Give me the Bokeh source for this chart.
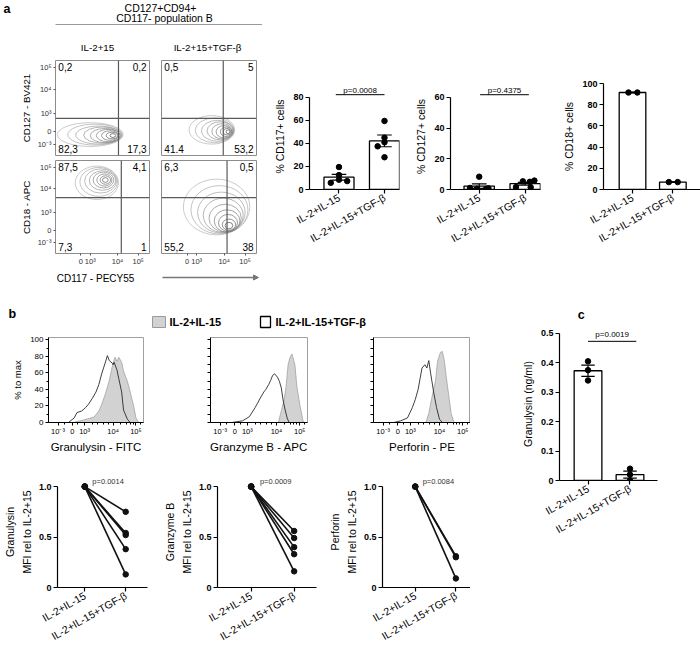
import math
from bokeh.plotting import figure
from bokeh.layouts import row, column
from bokeh.models import (Range1d, FixedTicker, Label, Span, Arrow, NormalHead, LinearAxis,
                          CustomJSTickFormatter)
from bokeh.embed import file_html
from bokeh.resources import INLINE

FONT = "Liberation Sans"

# ------------------------------------------------------------------ data
groups = ["IL-2+IL-15", "IL-2+IL-15+TGF-β"]

# panel a: flow plots (display units 0-100 on a biexponential axis)
flow_cols = ["IL-2+15", "IL-2+15+TGF-β"]
flow_y_labels = ["CD127 - BV421", "CD18 - APC"]
flow_x_label = "CD117 - PECY55"
flow_ytick_pos = [12, 25, 44, 70, 93]
flow_ytick_txt = ["10⁻³", "0", "10³", "10⁴", "10⁵"]
flow_xtick_pos = [27, 37, 66, 88]
flow_xtick_txt = ["0", "10³", "10⁴", "10⁵"]
# quadrant percentages: upper-left, upper-right, lower-left, lower-right
quad_cd127_il = ["0,2", "0,2", "82,3", "17,3"]
quad_cd127_tgf = ["0,5", "5", "41.4", "53,2"]
quad_cd18_il = ["87,5", "4,1", "7,3", "1"]
quad_cd18_tgf = ["6,3", "0,5", "55,2", "38"]
# gates (x, y)
gate_cd127_il = [67, 39]
gate_cd127_tgf = [65, 39]
gate_cd18_il = [70, 60]
gate_cd18_tgf = [69, 60]
# contour levels (outer -> inner)
tl_cx = [37, 42, 46, 50, 53, 56, 58, 60, 61]
tl_cy = [22, 22, 21.5, 21.5, 21, 21, 21, 21, 21]
tl_w = [70, 58, 49, 40, 32, 25, 18, 12, 6]
tl_h = [25, 22, 19, 17, 15, 13, 10, 7, 4]
tr_cx = [53, 56, 59, 62, 64, 66, 68, 69, 70]
tr_cy = [27, 26.5, 26, 26, 25.5, 25, 25, 25, 25]
tr_w = [48, 41, 34, 28, 22, 17, 12, 8, 4]
tr_h = [30, 26, 22, 19, 16, 13, 10, 7, 4]
bl_cx = [44, 46, 48, 50, 51, 52, 53, 53]
bl_cy = [76, 77, 78, 78.5, 79, 79, 79, 79]
bl_w = [46, 40, 34, 28, 22, 16, 11, 6]
bl_h = [36, 31, 26, 21, 17, 13, 9, 5]
br_cx = [58, 61, 63, 65, 67, 69, 70, 71, 71]
br_cy = [50, 47, 44, 41, 38, 35, 33, 31, 30]
br_w = [70, 60, 50, 42, 34, 27, 20, 14, 8]
br_h = [60, 52, 44, 37, 30, 24, 18, 12, 7]

# panel a: bar charts
cd117_il = [19.5, 12.5, 7.3, 5.8, 8.5]
cd117_tgf = [59.5, 45.0, 41.0, 37.5, 28.0]
cd117_mean = [10.7, 42.2]
cd117_sem = [2.5, 5.1]
cd127_il = [8.3, 1.0, 0.8, 0.5, 0.4]
cd127_tgf = [5.8, 5.3, 5.0, 1.6, 1.4]
cd127_mean = [2.2, 3.8]
cd127_sem = [1.5, 0.9]
cd18_il = [91.5, 91.5]
cd18_tgf = [7.0, 7.0]
cd18_mean = [91.5, 7.0]
cd18_sem = [0.3, 0.2]
p_cd117 = "p=0.0008"
p_cd127 = "p=0.4375"

# panel b: histograms (x in display units 0-100, y in % of max)
hist_tick_pos = [10, 25, 38, 68, 92]
hist_tick_txt = ["10⁻³", "0", "10³", "10⁴", "10⁵"]
gran_il_x = [26, 37, 48, 53, 56, 60, 64, 67, 70, 72, 74, 77, 79, 83, 86, 90, 92, 95]
gran_il_y = [0, 3, 6.6, 14, 22, 35, 51, 67, 79, 74, 79, 73, 62, 50, 37, 18, 5.5, 0]
gran_tgf_x = [21, 27, 30, 35, 39, 42, 46, 50, 53, 56, 60, 62, 64, 67, 68, 69, 72, 74, 77, 79, 83, 86]
gran_tgf_y = [0, 5.5, 12, 14, 18, 22, 29, 37, 46, 59, 73.5, 81, 75, 72, 70, 73, 64, 53, 37, 15, 4, 0]
gzmb_il_x = [70, 73, 76, 78, 80, 82, 84, 87, 89, 92, 95, 96]
gzmb_il_y = [0, 14, 27.6, 44, 70, 79, 83, 70, 44, 22, 4, 0]
gzmb_tgf_x = [22, 33, 40, 46, 52, 55, 57, 60, 62, 64, 66, 69, 71, 73, 75, 77, 79, 81]
gzmb_tgf_y = [0, 2, 7, 18, 31, 37, 40, 46, 51, 57, 59, 55, 50, 42, 26, 15, 5.5, 0]
perf_il_x = [54, 57, 60, 64, 66, 69, 71, 73, 75, 78, 80, 83]
perf_il_y = [0, 11, 29, 51, 74, 85, 86, 75, 55, 29, 11, 0]
perf_tgf_x = [21, 28, 35, 40, 43, 46, 48, 50, 53, 55, 57, 59, 62, 65, 68, 71]
perf_tgf_y = [0, 2, 5.5, 18, 27.6, 40, 53, 66, 70, 66, 75, 59, 37, 18, 4, 0]

# panel b: paired MFI (relative to IL-2+15)
gran_mfi_il = [1.0, 1.0, 1.0, 1.0, 1.0]
gran_mfi_tgf = [0.75, 0.54, 0.52, 0.38, 0.13]
gzmb_mfi_il = [1.0, 1.0, 1.0, 1.0, 1.0]
gzmb_mfi_tgf = [0.56, 0.49, 0.40, 0.33, 0.16]
perf_mfi_il = [1.0, 1.0, 1.0]
perf_mfi_tgf = [0.31, 0.30, 0.09]
p_gran, p_gzmb, p_perf = "p=0.0014", "p=0.0009", "p=0.0084"

# panel c: secreted granulysin
gnly_il = [0.405, 0.375, 0.34]
gnly_tgf = [0.04, 0.02, 0.0]
gnly_mean = [0.373, 0.02]
gnly_sem = [0.019, 0.012]
p_gnly = "p=0.0019"

# ------------------------------------------------------------------ helpers
SX = 1.0
SY = 1.0


def X(v):
    return int(round(v * SX))


def Y(v):
    return int(round(v * SY))


def fs(px):
    return f"{px * SX:.1f}px"


def mkfig(box, frame, xr, yr):
    x0, y0, x1, y1 = box
    fx0, fy0, fx1, fy1 = frame
    p = figure(width=X(x1) - X(x0), height=Y(y1) - Y(y0),
               x_range=Range1d(*xr), y_range=Range1d(*yr),
               output_backend="svg", toolbar_location=None,
               min_border_left=X(fx0) - X(x0), min_border_right=X(x1) - X(fx1),
               min_border_top=Y(fy0) - Y(y0), min_border_bottom=Y(y1) - Y(fy1))
    p.grid.visible = False
    p.outline_line_color = None
    return p


def blank(box):
    x0, y0, x1, y1 = box
    p = mkfig(box, box, (x0, x1), (y1, y0))
    p.axis.visible = False
    return p


def lab(p, x, y, text, size, bold=False, align="left", baseline="middle",
        color="black", angle=0):
    p.add_layout(Label(x=x, y=y, text=text, text_font=FONT,
                       text_font_size=fs(size),
                       text_font_style="bold" if bold else "normal",
                       text_align=align, text_baseline=baseline,
                       text_color=color, angle=angle))


def axstyle(ax, tick_size=9, bold=True, label_size=10.5, tick_out=4):
    ax.axis_line_color = "black"
    ax.axis_line_width = 1.2
    ax.major_tick_line_color = "black"
    ax.major_tick_line_width = 1.2
    ax.major_tick_out = tick_out
    ax.major_tick_in = 0
    ax.minor_tick_out = 0
    ax.minor_tick_in = 0
    ax.major_label_text_font = FONT
    ax.major_label_text_font_size = fs(tick_size)
    ax.major_label_text_font_style = "bold" if bold else "normal"
    ax.major_label_text_color = "black"
    ax.major_label_standoff = 2
    ax.axis_label_text_font = FONT
    ax.axis_label_text_font_size = fs(label_size)
    ax.axis_label_text_font_style = "normal"
    ax.axis_label_text_color = "black"
    ax.axis_label_standoff = 4


CONTOUR_COLORS = ["#b4b4b4", "#aaaaaa", "#a0a0a0", "#959595", "#8a8a8a",
                  "#7e7e7e", "#707070", "#606060", "#4e4e4e"]


def flow(box, frame, cx, cy, w, h, quad, gate, yaxis_on, xaxis_on, ylabel=None):
    p = mkfig(box, frame, (0, 100), (0, 100))
    p.outline_line_color = "#8c8c8c"
    p.outline_line_width = 1
    p.ellipse(x=cx, y=cy, width=w, height=h, fill_color=None,
              line_color=CONTOUR_COLORS[:len(cx)], line_width=0.7)
    p.add_layout(Span(location=gate[0], dimension="height", line_color="#5a5a5a", line_width=1.2))
    p.add_layout(Span(location=gate[1], dimension="width", line_color="#5a5a5a", line_width=1.2))
    lab(p, 3, 97, quad[0], 10, baseline="top")
    lab(p, 97, 97, quad[1], 10, align="right", baseline="top")
    lab(p, 3, 3, quad[2], 10, baseline="bottom")
    lab(p, 97, 3, quad[3], 10, align="right", baseline="bottom")
    for ax in p.axis:
        axstyle(ax, tick_size=7.5, bold=False, label_size=9.8, tick_out=2)
        ax.axis_line_color = None
        ax.major_tick_line_color = "#555"
        ax.major_tick_line_width = 1
        ax.major_label_text_color = "#333"
    if yaxis_on:
        p.yaxis.ticker = FixedTicker(ticks=flow_ytick_pos)
        p.yaxis.major_label_overrides = dict(zip(flow_ytick_pos, flow_ytick_txt))
        p.yaxis.axis_label = ylabel
        p.yaxis.axis_label_standoff = 3
    else:
        p.yaxis.visible = False
    if xaxis_on:
        p.xaxis.ticker = FixedTicker(ticks=flow_xtick_pos)
        p.xaxis.major_label_overrides = dict(zip(flow_xtick_pos, flow_xtick_txt))
        p.xaxis.major_label_standoff = 1
    else:
        p.xaxis.visible = False
    return p


def group_axis(p, angle_deg=30):
    p.xaxis.ticker = FixedTicker(ticks=[1, 2])
    p.xaxis.major_label_overrides = {1: groups[0], 2: groups[1]}
    p.xaxis.major_label_orientation = math.radians(angle_deg)
    p.xaxis.major_label_text_font_style = "normal"
    p.xaxis.major_label_text_font_size = fs(10.5)
    p.xaxis.major_label_standoff = 3


def bar_chart(box, fx, fy_zero, fy_max, ymax, ytop, xr, pts_a, pts_b, jit_a, jit_b,
              mean, sem, ylabel, yticks, pval=None, pline=None, ptext=None, pspan=(1, 2)):
    fy0 = fy_zero - ytop * (fy_zero - fy_max) / ymax
    p = mkfig(box, (fx[0], fy0, fx[1], fy_zero), xr, (0, ytop))
    for ax in p.axis:
        axstyle(ax)
    p.yaxis.bounds = (0, ymax)
    p.yaxis.ticker = FixedTicker(ticks=yticks)
    p.yaxis.axis_label = ylabel
    group_axis(p)
    xs = [1, 2]
    p.vbar(x=xs, top=mean, width=0.66, fill_color="white", line_color="black", line_width=1.3)
    lo = [m - s for m, s in zip(mean, sem)]
    hi = [m + s for m, s in zip(mean, sem)]
    p.segment(x0=xs, y0=lo, x1=xs, y1=hi, line_color="black", line_width=1.2)
    for ys in (lo, hi):
        p.segment(x0=[x - 0.16 for x in xs], y0=ys, x1=[x + 0.16 for x in xs], y1=ys,
                  line_color="black", line_width=1.2)
    px = [1 + j for j in jit_a] + [2 + j for j in jit_b]
    p.scatter(x=px, y=list(pts_a) + list(pts_b), size=5.5, color="black")
    if pval:
        p.segment(x0=[pspan[0]], y0=[pline], x1=[pspan[1]], y1=[pline], line_color="black", line_width=1)
        lab(p, (pspan[0] + pspan[1]) / 2, ptext, pval, 8, align="center")
    return p


def hist(box, frame, il_x, il_y, tgf_x, tgf_y, xlabel, ylabel=None):
    p = mkfig(box, frame, (0, 100), (0, 103))
    p.outline_line_color = "#a0a0a0"
    p.varea(x=il_x, y1=[0] * len(il_x), y2=il_y, fill_color="#d2d2d2")
    p.line(il_x, il_y, line_color="#a2a2a2", line_width=0.8)
    p.line(tgf_x, tgf_y, line_color="#2a2a2a", line_width=0.9)
    for ax in p.axis:
        axstyle(ax, tick_size=8, bold=False, label_size=11.5, tick_out=3)
        ax.axis_line_width = 1
        ax.major_tick_line_width = 1
        ax.minor_tick_out = 2
        ax.minor_tick_line_color = "black"
    p.xaxis.ticker = FixedTicker(ticks=hist_tick_pos, minor_ticks=[17, 31, 46, 52, 58, 63, 76, 82, 86, 89, 97])
    p.xaxis.major_label_overrides = dict(zip(hist_tick_pos, hist_tick_txt))
    p.xaxis.major_label_text_font_size = fs(7.5)
    p.xaxis.axis_label = xlabel
    p.xaxis.axis_label_standoff = 2
    p.xaxis.major_label_standoff = 1
    if ylabel:
        p.yaxis.ticker = FixedTicker(ticks=[0, 20, 40, 60, 80, 100], minor_ticks=[10, 30, 50, 70, 90])
        p.yaxis.axis_label = ylabel
        p.yaxis.axis_label_text_font_size = fs(9.5)
    else:
        p.yaxis.ticker = FixedTicker(ticks=[], minor_ticks=[0, 10, 20, 30, 40, 50, 60, 70, 80, 90, 100])
        p.yaxis.minor_tick_out = 3
    return p


def mfi(box, fx, xr, il, tgf, top_label, pval):
    fy_zero, fy_one = 593, 487
    fy0 = fy_zero - 1.1 * (fy_zero - fy_one)
    p = mkfig(box, (fx[0], fy0, fx[1], fy_zero), xr, (0, 1.1))
    for ax in p.axis:
        axstyle(ax)
    p.yaxis.bounds = (0, 1)
    p.yaxis.ticker = FixedTicker(ticks=[0, 0.5, 1.0])
    p.yaxis.formatter = CustomJSTickFormatter(code="return tick == 0 ? '0' : tick.toFixed(1);")
    p.yaxis.axis_label = "MFI rel to IL-2+15"
    p.yaxis.axis_label_standoff = 3
    extra = LinearAxis(axis_label=top_label, ticker=FixedTicker(ticks=[]))
    extra.axis_line_color = None
    extra.major_tick_out = 0
    extra.minor_tick_out = 0
    extra.axis_label_text_font = FONT
    extra.axis_label_text_font_size = fs(10.5)
    extra.axis_label_text_font_style = "normal"
    extra.axis_label_text_color = "black"
    extra.axis_label_standoff = 2
    p.add_layout(extra, "left")
    group_axis(p)
    p.multi_line(xs=[[1, 2] for _ in il], ys=[[a, b] for a, b in zip(il, tgf)],
                 line_color="#111", line_width=1.6)
    p.scatter(x=[1] * len(il) + [2] * len(tgf), y=list(il) + list(tgf), size=5.5, color="#111")
    lab(p, 1.57, 1.047, pval, 7.5, align="center", color="#333")
    return p


# ------------------------------------------------------------------ panel a
hdr = blank((0, 0, 262, 60))
lab(hdr, 3, 8, "a", 12.5, bold=True)
lab(hdr, 160, 7.5, "CD127+CD94+", 10.5, align="center")
lab(hdr, 164, 17.5, "CD117- population B", 10.5, align="center")
hdr.segment(x0=[55], y0=[24], x1=[262], y1=[24], line_color="#9a9a9a", line_width=1.2)
lab(hdr, 97, 47, flow_cols[0], 9.8, align="center")
lab(hdr, 207, 47, flow_cols[1], 9.8, align="center")

TL = flow((0, 60, 155, 157), (55, 60, 149, 155), tl_cx, tl_cy, tl_w, tl_h,
          quad_cd127_il, gate_cd127_il, True, False, flow_y_labels[0])
TR = flow((155, 60, 262, 157), (161, 60, 256, 155), tr_cx, tr_cy, tr_w, tr_h,
          quad_cd127_tgf, gate_cd127_tgf, False, False)
BL = flow((0, 157, 155, 268), (55, 160, 149, 254), bl_cx, bl_cy, bl_w, bl_h,
          quad_cd18_il, gate_cd18_il, True, True, flow_y_labels[1])
BR = flow((155, 157, 262, 268), (161, 160, 256, 254), br_cx, br_cy, br_w, br_h,
          quad_cd18_tgf, gate_cd18_tgf, False, True)

fstrip = blank((0, 268, 262, 290))
lab(fstrip, 95, 278, flow_x_label, 10, align="center")
fstrip.add_layout(Arrow(end=NormalHead(size=5, fill_color="#777", line_color="#777"),
                        x_start=162, y_start=277, x_end=258, y_end=277,
                        line_color="#777", line_width=1.5))

flowcol = column(hdr, row(TL, TR), row(BL, BR), fstrip)

c1 = bar_chart((262, 0, 412, 290), (309, 399), 189, 83, 80, 92, (0.352, 2.33),
               cd117_il, cd117_tgf, [0, 0, 0.18, -0.18, 0], [0, 0, 0, -0.15, 0],
               cd117_mean, cd117_sem, "% CD117+ cells", [0, 20, 40, 60, 80],
               p_cd117, 82.3, 85.8, (0.93, 2.0))
c2 = bar_chart((412, 0, 560, 290), (449, 540), 189, 83, 60, 69, (0.376, 2.333),
               cd127_il, cd127_tgf, [0, -0.2, 0.2, -0.05, 0.15], [0.2, -0.05, 0.1, -0.2, 0.12],
               cd127_mean, cd127_sem, "% CD127+ cells", [0, 20, 40, 60],
               p_cd127, 61.7, 64.2, (1.02, 2.08))
c3 = bar_chart((560, 0, 700, 290), (593, 700), 189, 83, 100, 100, (0.281, 2.685),
               cd18_il, cd18_tgf, [-0.1, 0.12], [-0.1, 0.12],
               cd18_mean, cd18_sem, "% CD18+ cells", [0, 20, 40, 60, 80, 100])

band_a = row(flowcol, c1, c2, c3)

# ------------------------------------------------------------------ panel b
leg = blank((0, 290, 470, 334))
lab(leg, 8, 313, "b", 12.5, bold=True)
leg.quad(left=[152], right=[165], top=[316], bottom=[327], fill_color="#d2d2d2", line_color="#9a9a9a", line_width=1)
lab(leg, 169, 321.5, groups[0], 11, bold=True)
leg.quad(left=[260], right=[270], top=[316], bottom=[327], fill_color="white", line_color="black", line_width=1.3)
lab(leg, 275, 321.5, groups[1], 11, bold=True)

H1 = hist((0, 334, 160, 455), (48, 337, 143, 430), gran_il_x, gran_il_y, gran_tgf_x, gran_tgf_y,
          "Granulysin - FITC", "% to max")
H2 = hist((160, 334, 325, 455), (210, 337, 307, 430), gzmb_il_x, gzmb_il_y, gzmb_tgf_x, gzmb_tgf_y,
          "Granzyme B - APC")
H3 = hist((325, 334, 470, 455), (373, 337, 470, 430), perf_il_x, perf_il_y, perf_tgf_x, perf_tgf_y,
          "Perforin - PE")

L1 = mfi((0, 455, 160, 650), (48, 147), (0.333, 2.533), gran_mfi_il, gran_mfi_tgf, "Granulysin", p_gran)
L2 = mfi((160, 455, 325, 650), (210, 316), (0.217, 2.52), gzmb_mfi_il, gzmb_mfi_tgf, "Granzyme B", p_gzmb)
L3 = mfi((325, 455, 470, 650), (373, 470), (0.195, 2.36), perf_mfi_il, perf_mfi_tgf, "Perforin", p_perf)

col_b = column(leg, row(H1, H2, H3), row(L1, L2, L3))

# ------------------------------------------------------------------ panel c
cstrip = blank((470, 290, 700, 325))
lab(cstrip, 513, 314, "c", 12.5, bold=True)
cfig = bar_chart((470, 325, 700, 650), (559, 657), 480, 333, 0.5, 0.52, (0.321, 2.655),
                 gnly_il, gnly_tgf, [0, 0, 0], [0, 0, 0], gnly_mean, gnly_sem,
                 "Granulysin (ng/ml)", [0.0, 0.1, 0.2, 0.3, 0.4, 0.5],
                 p_gnly, 0.473, 0.497, (1.0, 2.15))
col_c = column(cstrip, cfig)

root = column(band_a, row(col_b, col_c))

open("out.html", "w").write(file_html(root, INLINE, title="chart"))
